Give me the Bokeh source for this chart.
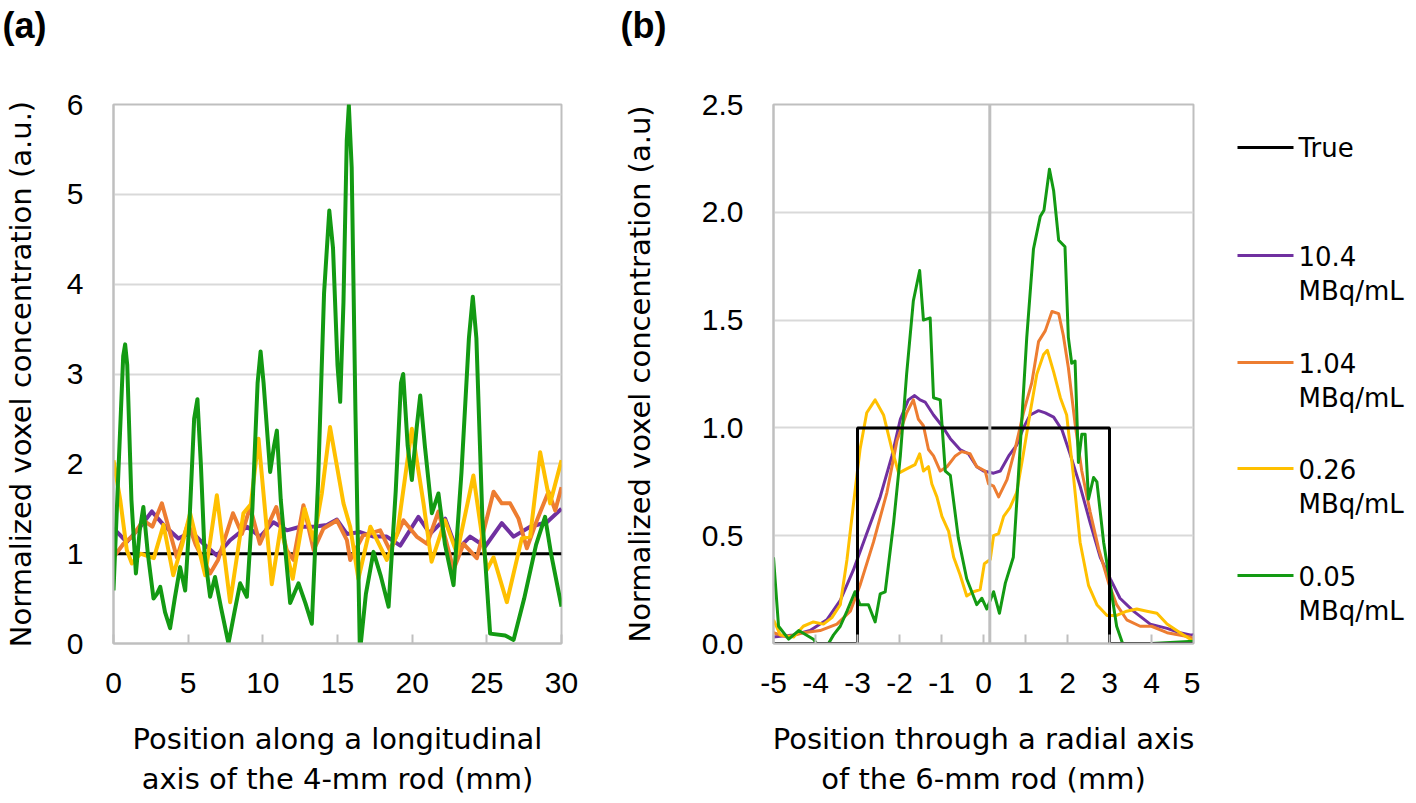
from bokeh.plotting import figure
from bokeh.layouts import row, column
from bokeh.models import Range1d, FixedTicker, Span, NumeralTickFormatter
from bokeh.embed import file_html
from bokeh.resources import INLINE
from bokeh.core.properties import value

# ---------------- data ----------------
panel_tags = ["(a)", "(b)"]
series_names = ["True", "10.4", "1.04", "0.26", "0.05"]
series_unit = "MBq/mL"
series_colors = ["#000000", "#7030A0", "#ED7D31", "#FFC000", "#139A13"]

# Panel (a): longitudinal profile of the 4-mm rod
a_true_x = [0, 30]
a_true_y = [1, 1]

a_104_x = [0, 0.89, 1.79, 2.57, 3.35, 4.35, 5.25, 6.03, 6.92, 7.81, 8.93, 9.82, 10.71, 11.61, 12.5, 13.39,
           14.29, 14.96, 15.63, 16.52, 17.41, 18.3, 19.2, 20.42, 21.2, 22.21, 22.99, 23.88, 24.89, 26.0,
           26.79, 27.9, 29.02, 30]
a_104_y = [1.28, 1.13, 1.30, 1.47, 1.32, 1.17, 1.24, 1.11, 0.98, 1.15, 1.30, 1.19, 1.35, 1.26, 1.30, 1.30,
           1.32, 1.38, 1.22, 1.24, 1.19, 1.19, 1.09, 1.41, 1.22, 1.39, 1.04, 1.19, 1.08, 1.34,
           1.19, 1.30, 1.35, 1.50]

a_104b_x = [0, 0.67, 1.3, 2.0, 2.6, 3.24, 4.24, 5.0, 5.5, 6.47, 7.0, 8.0, 8.6, 9.15, 9.8, 10.9, 11.6, 12.05,
            12.72, 13.4, 14.06, 14.96, 15.63, 15.85, 16.7, 17.86, 18.5, 19.42, 20.3, 21.0, 21.76, 22.77,
            23.44, 24.33, 25.45, 26.0, 26.56, 27.12, 27.68, 28.35, 29.13, 29.58, 30]
a_104b_y = [0.96, 1.11, 1.2, 1.37, 1.3, 1.56, 0.96, 1.34, 1.1, 0.78, 0.93, 1.45, 1.22, 1.52, 1.11, 1.52, 1.04, 0.93,
            1.54, 1.04, 1.28, 1.37, 1.15, 0.93, 1.2, 1.26, 1.04, 1.37, 1.19, 1.11, 1.47, 0.82,
            1.11, 0.95, 1.69, 1.56, 1.56, 1.39, 1.06, 1.37, 1.69, 1.48, 1.74]

a_026_x = [0, 0.45, 0.89, 1.23, 1.8, 2.7, 3.35, 4.0, 4.6, 5.13, 6.14, 6.92, 7.81, 8.7, 9.2, 9.71, 10.6, 11.2,
           12.0, 12.8, 13.4, 13.95, 14.5, 15.4, 15.85, 16.4, 17.2, 18.3, 19.0, 19.98, 20.76, 21.3, 22.2,
           23.0, 24.1, 25.0, 25.45, 26.34, 27.34, 27.9, 28.57, 29.24, 30]
a_026_y = [2.04, 1.6, 1.04, 0.89, 1.0, 0.95, 1.32, 0.76, 1.1, 1.45, 0.76, 1.65, 0.46, 1.45, 1.55, 2.28, 0.66, 1.3,
           0.72, 1.5, 1.15, 1.67, 2.41, 1.56, 1.3, 0.72, 1.3, 0.93, 1.22, 2.39, 1.56, 0.91, 1.37,
           1.0, 1.87, 0.82, 0.96, 0.46, 1.17, 1.19, 2.13, 1.56, 2.04]

a_005_x = [0, 0.4, 0.65, 0.78, 0.92, 1.2, 1.5, 1.75, 2.0, 2.3, 2.68, 2.9, 3.13, 3.45, 3.79, 4.1, 4.46, 4.8,
           5.1, 5.4, 5.62, 5.85, 6.1, 6.47, 6.8, 7.2, 7.7, 8.1, 8.48, 8.93, 9.3, 9.65, 9.85, 10.05, 10.49,
           10.75, 10.94, 11.2, 11.83, 12.39, 12.85, 13.28, 13.7, 14.1, 14.45, 14.7, 15.0, 15.18, 15.4,
           15.62, 15.76, 15.95, 16.2, 16.5, 16.9, 17.41, 17.9, 18.42, 18.9, 19.25, 19.4, 19.7, 19.98,
           20.3, 20.54, 20.85, 21.32, 21.76, 22.2, 22.77, 23.3, 23.8, 24.06, 24.3, 24.7, 25.22, 26.23,
           26.79, 27.5, 28.3, 28.9, 29.3, 30]
a_005_y = [0.59, 2.2, 3.2, 3.33, 3.1, 1.6, 0.78, 1.25, 1.52, 1.0, 0.5, 0.55, 0.63, 0.35, 0.17, 0.5, 0.85, 0.59,
           1.4, 2.5, 2.72, 2.0, 1.0, 0.52, 0.74, 0.4, 0.0, 0.35, 0.67, 0.52, 1.5, 2.9, 3.25, 2.9, 1.91,
           2.2, 2.37, 1.6, 0.45, 0.67, 0.45, 0.22, 1.8, 3.9, 4.82, 4.4, 3.1, 2.69, 3.8,
           5.6, 5.99, 5.3, 2.6, -0.1, 0.55, 1.02, 0.75, 0.41, 1.7, 2.9, 3.0, 2.2, 1.82,
           2.4, 2.76, 2.2, 1.45, 1.67, 1.1, 0.65, 1.9, 3.4, 3.86, 3.4, 1.4, 0.11, 0.09,
           0.04, 0.5, 1.1, 1.41, 1.0, 0.41]

# Panel (b): radial profile of the 6-mm rod
b_true_x = [-5, -3, -3, 3, 3, 5]
b_true_y = [0, 0, 1, 1, 0, 0]

b_104_x = [-5, -4.52, -4.13, -3.73, -3.41, -3.1, -2.78, -2.46, -2.18, -1.98, -1.79, -1.64, -1.51, -1.39,
           -1.19, -0.99, -0.79, -0.56, -0.36, -0.16, 0.0, 0.24, 0.4, 0.6, 0.79, 0.95, 1.11, 1.31, 1.47,
           1.67, 1.87, 2.06, 2.3, 2.54, 2.78, 3.02, 3.25, 3.57, 3.97, 4.37, 4.68, 4.92, 5]
b_104_y = [0.03, 0.04, 0.06, 0.11, 0.2, 0.34, 0.51, 0.68, 0.87, 1.04, 1.13, 1.15, 1.13, 1.12,
           1.06, 1.01, 0.95, 0.9, 0.88, 0.82, 0.8, 0.79, 0.8, 0.87, 0.92, 1.0, 1.06, 1.08, 1.07,
           1.05, 0.99, 0.88, 0.73, 0.56, 0.4, 0.3, 0.21, 0.15, 0.09, 0.07, 0.05, 0.04, 0.04]

b_104b_x = [-5, -4.68, -4.29, -3.89, -3.49, -3.17, -2.94, -2.62, -2.3, -2.06, -1.83, -1.67, -1.55, -1.43,
            -1.31, -1.19, -1.03, -0.87, -0.67, -0.52, -0.32, -0.16, 0.04, 0.12, 0.24, 0.36, 0.56, 0.75,
            0.95, 1.15, 1.31, 1.47, 1.63, 1.79, 1.9, 2.02, 2.18, 2.34, 2.54, 2.74, 2.98, 3.17, 3.41,
            3.73, 4.0, 4.37, 4.92, 5]
b_104b_y = [0.05, 0.03, 0.05, 0.06, 0.09, 0.15, 0.27, 0.47, 0.7, 0.94, 1.07, 1.13, 1.04, 1.01,
            0.9, 0.87, 0.8, 0.82, 0.87, 0.89, 0.88, 0.82, 0.8, 0.74, 0.73, 0.68, 0.76, 0.9,
            1.07, 1.21, 1.4, 1.45, 1.54, 1.53, 1.43, 1.28, 1.02, 0.8, 0.61, 0.44, 0.28, 0.18, 0.11,
            0.08, 0.08, 0.05, 0.03, 0.02]

b_026_x = [-5, -4.84, -4.52, -4.29, -4.05, -3.81, -3.61, -3.41, -3.25, -3.1, -2.94, -2.78, -2.58, -2.38,
           -2.18, -2.02, -1.83, -1.63, -1.52, -1.43, -1.31, -1.23, -1.11, -0.99, -0.83, -0.71, -0.56,
           -0.4, -0.24, -0.08, 0.02, 0.16, 0.24, 0.36, 0.48, 0.63, 0.79, 0.95, 1.11, 1.27, 1.43, 1.52,
           1.67, 1.83, 1.98, 2.14, 2.3, 2.5, 2.7, 2.94, 3.17, 3.41, 3.65, 3.89, 4.13, 4.37, 4.68, 5]
b_026_y = [0.11, 0.04, 0.03, 0.08, 0.1, 0.09, 0.12, 0.18, 0.39, 0.64, 0.9, 1.07, 1.13, 1.06,
           0.9, 0.79, 0.81, 0.83, 0.88, 0.8, 0.82, 0.74, 0.68, 0.59, 0.52, 0.4, 0.32,
           0.22, 0.24, 0.25, 0.37, 0.39, 0.5, 0.51, 0.59, 0.63, 0.7, 0.88, 1.07, 1.25, 1.34, 1.36,
           1.26, 1.14, 1.06, 0.78, 0.47, 0.27, 0.18, 0.13, 0.13, 0.15, 0.16, 0.15, 0.14, 0.09, 0.05, 0.01]

b_005_x = [-5, -4.88, -4.64, -4.4, -4.05, -3.9, -3.75, -3.57, -3.41, -3.25, -3.06, -2.94, -2.74, -2.58,
           -2.46, -2.34, -2.14, -1.98, -1.83, -1.67, -1.52, -1.43, -1.27, -1.19, -1.03, -0.91, -0.79,
           -0.6, -0.4, -0.16, -0.04, 0.08, 0.24, 0.38, 0.52, 0.71, 0.87, 1.03, 1.19, 1.35, 1.44, 1.57,
           1.67, 1.79, 1.94, 2.02, 2.1, 2.18, 2.26, 2.34, 2.42, 2.5, 2.62, 2.7, 2.86, 3.02, 3.17, 3.33,
           4.0, 5]
b_005_y = [0.4, 0.08, 0.02, 0.06, 0.02, -0.02, -0.02, 0.04, 0.08, 0.15, 0.24, 0.18, 0.18, 0.1,
           0.23, 0.24, 0.56, 0.87, 1.25, 1.59, 1.73, 1.5, 1.51, 1.14, 1.13, 0.8, 0.78,
           0.49, 0.3, 0.18, 0.21, 0.16, 0.24, 0.14, 0.28, 0.4, 0.9, 1.42, 1.83, 1.98, 2.01, 2.2,
           2.1, 1.87, 1.84, 1.42, 1.3, 1.31, 0.84, 0.97, 0.97, 0.67, 0.77, 0.75, 0.47, 0.27, 0.08, -0.01,
           0.0, 0.01]

a_ticks_x = [0, 5, 10, 15, 20, 25, 30]
a_ticks_y = [0, 1, 2, 3, 4, 5, 6]
b_ticks_x = [-5, -4, -3, -2, -1, 0, 1, 2, 3, 4, 5]
b_tick_labels_x = ["-5", "-4", "-3", "-2", "-1", "0", "1", "2", "3", "4", "5"]
b_ticks_y = [0, 0.5, 1.0, 1.5, 2.0, 2.5]
b_axis_cross = 0.15

a_xlabel = "Position along a longitudinal\naxis of the 4-mm rod (mm)"
a_ylabel = "Normalized voxel concentration (a.u.)"
b_xlabel = "Position through a radial axis\nof the 6-mm rod (mm)"
b_ylabel = "Normalized voxel concentration (a.u)"

# ---------------- styling ----------------
TITLE_FONT = "DejaVu Sans"
NUM_FONT = "Liberation Sans"
GRID = "#D9D9D9"
BORDER = "#BFBFBF"

HEAD = 50          # header strip with the panel tags
H = 753            # main row height
TOP = 54           # frame top inside the main row
FRAME_H = 539
BOTTOM = H - TOP - FRAME_H


def style(p, xticks, yticks, xlabel, ylabel, ylabel_standoff):
    p.xaxis.ticker = FixedTicker(ticks=xticks)
    p.yaxis.ticker = FixedTicker(ticks=yticks)
    for ax in (p.xaxis, p.yaxis):
        ax.axis_line_color = BORDER
        ax.axis_line_width = 2
        ax.major_label_text_font = NUM_FONT
        ax.major_label_text_font_size = "30px"
        ax.major_label_text_color = "#000000"
        ax.axis_label_text_font = TITLE_FONT
        ax.axis_label_text_font_size = "29px"
        ax.axis_label_text_font_style = "normal"
        ax.axis_label_text_color = "#000000"
        ax.minor_tick_line_color = None
    p.xaxis.major_tick_in = 9
    p.xaxis.major_tick_out = 0
    p.xaxis.major_tick_line_color = BORDER
    p.xaxis.major_tick_line_width = 2
    p.yaxis.major_tick_line_color = None
    p.yaxis.major_tick_in = 0
    p.yaxis.major_tick_out = 0
    p.xaxis.major_label_standoff = 29
    p.yaxis.major_label_standoff = 30
    p.xaxis.axis_label = xlabel
    p.yaxis.axis_label = ylabel
    p.xaxis.axis_label_standoff = 26
    p.yaxis.axis_label_standoff = ylabel_standoff
    p.xgrid.grid_line_color = None
    p.ygrid.grid_line_color = GRID
    p.ygrid.grid_line_width = 2
    p.outline_line_color = BORDER
    p.outline_line_width = 2
    p.background_fill_color = "white"
    p.border_fill_color = "white"


def blank(p):
    p.axis.visible = False
    p.grid.visible = False
    p.outline_line_color = None
    p.background_fill_color = "white"
    p.border_fill_color = "white"


# header strip: panel tags
head = figure(width=1416, height=HEAD, x_range=Range1d(0, 1416), y_range=Range1d(HEAD, 0),
              output_backend="svg", toolbar_location=None,
              min_border=0, min_border_left=0, min_border_right=0, min_border_top=0, min_border_bottom=0)
blank(head)
head.text([2, 620], [25, 25], text=panel_tags, text_font=value("Liberation Sans"), text_font_size="36px",
          text_font_style="bold", text_baseline="middle", text_align="left", text_color="#000000")

p1 = figure(width=608, height=H, x_range=Range1d(0, 30), y_range=Range1d(0, 6),
            output_backend="svg", toolbar_location=None,
            min_border_left=113, min_border_right=47, min_border_top=TOP, min_border_bottom=BOTTOM)
style(p1, a_ticks_x, a_ticks_y, a_xlabel, a_ylabel, 26)
p1.line(a_true_x, a_true_y, color=series_colors[0], line_width=3)
p1.line(a_104_x, a_104_y, color=series_colors[1], line_width=4, line_join="round")
p1.line(a_104b_x, a_104b_y, color=series_colors[2], line_width=4, line_join="round")
p1.line(a_026_x, a_026_y, color=series_colors[3], line_width=4, line_join="round")
p1.line(a_005_x, a_005_y, color=series_colors[4], line_width=4, line_join="round")

p2 = figure(width=592, height=H, x_range=Range1d(-5, 5), y_range=Range1d(0, 2.5),
            output_backend="svg", toolbar_location=None,
            min_border_left=165, min_border_right=7, min_border_top=TOP, min_border_bottom=BOTTOM)
style(p2, b_ticks_x, b_ticks_y, b_xlabel, b_ylabel, 42)
p2.yaxis.formatter = NumeralTickFormatter(format="0.0")
p2.xaxis.major_label_overrides = dict(zip(b_ticks_x, b_tick_labels_x))
p2.line(b_104_x, b_104_y, color=series_colors[1], line_width=3, line_join="round")
p2.line(b_104b_x, b_104b_y, color=series_colors[2], line_width=3, line_join="round")
p2.line(b_026_x, b_026_y, color=series_colors[3], line_width=3, line_join="round")
p2.line(b_005_x, b_005_y, color=series_colors[4], line_width=3, line_join="round")
p2.line(b_true_x, b_true_y, color=series_colors[0], line_width=3)
p2.add_layout(Span(location=b_axis_cross, dimension="height", line_color=BORDER, line_width=3))

# legend panel: frame aligned with the plot frames; y in page pixels (downward)
pl = figure(width=216, height=H, x_range=Range1d(0, 216), y_range=Range1d(643, 104),
            output_backend="svg", toolbar_location=None,
            min_border_left=0, min_border_right=0, min_border_top=TOP, min_border_bottom=BOTTOM)
blank(pl)
item_y = [147, 255, 362, 468, 575]
for i, name in enumerate(series_names):
    pl.line([37, 93], [item_y[i], item_y[i]], color=series_colors[i], line_width=3)
    pl.text([98], [item_y[i]], text=[name], text_font=value(TITLE_FONT), text_font_size="26px",
            text_baseline="middle", text_align="left", text_color="#000000")
    if i > 0:
        pl.text([98], [item_y[i] + 35], text=[series_unit], text_font=value(TITLE_FONT),
                text_font_size="26px", text_baseline="middle", text_align="left", text_color="#000000")

layout = column(head, row(p1, p2, pl))
open("out.html", "w").write(file_html(layout, INLINE))
